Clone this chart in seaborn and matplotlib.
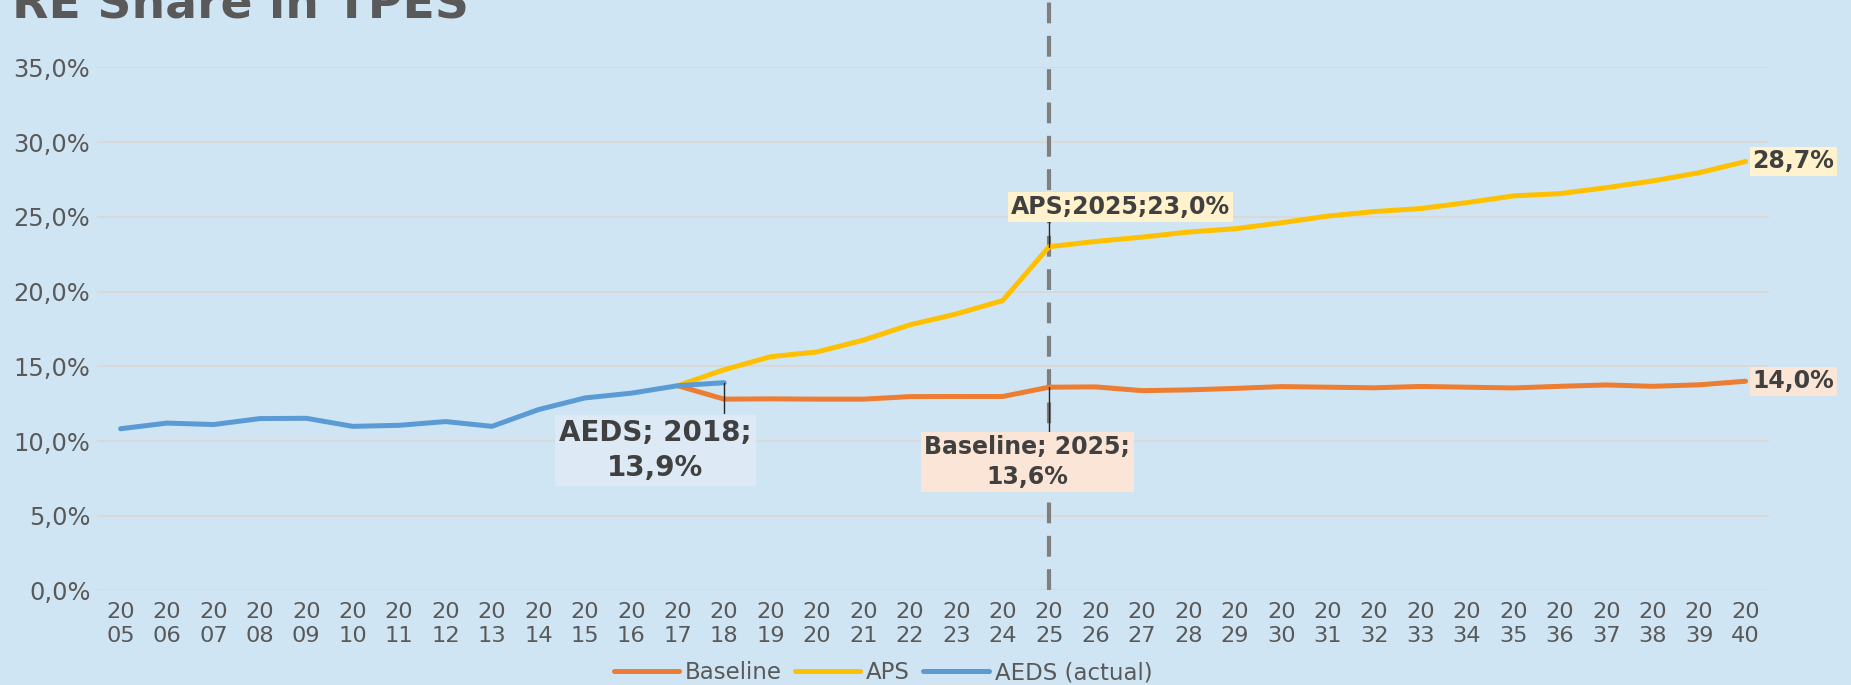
import numpy as np
import pandas as pd
import matplotlib
matplotlib.use("Agg")
import matplotlib.pyplot as plt
import seaborn as sns
from matplotlib.lines import Line2D

# ---------------- data ----------------
years_hist = list(range(2005, 2019))
aeds_vals = [10.82, 11.2, 11.1, 11.5, 11.52, 10.98, 11.05, 11.3, 10.98, 12.1, 12.88, 13.2, 13.7, 13.9]

years_proj = list(range(2017, 2041))
baseline_vals = [13.7, 12.8, 12.82, 12.8, 12.8, 12.97, 12.98, 12.98, 13.6, 13.62, 13.37, 13.42,
                 13.52, 13.64, 13.6, 13.56, 13.65, 13.6, 13.55, 13.66, 13.75, 13.66, 13.76, 14.0]
aps_vals = [13.7, 14.77, 15.64, 15.96, 16.75, 17.77, 18.5, 19.4, 23.0, 23.35, 23.64, 23.98,
            24.2, 24.6, 25.05, 25.35, 25.55, 25.95, 26.4, 26.55, 26.95, 27.4, 27.95, 28.7]

series_names = ["Baseline", "APS", "AEDS (actual)"]
series_colors = ["#ED7D31", "#FFC000", "#5B9BD5"]
yticks = [0, 5, 10, 15, 20, 25, 30, 35]

df = pd.concat([
    pd.DataFrame({"year": years_proj, "value": baseline_vals, "series": "Baseline"}),
    pd.DataFrame({"year": years_proj, "value": aps_vals, "series": "APS"}),
    pd.DataFrame({"year": years_hist, "value": aeds_vals, "series": "AEDS (actual)"}),
], ignore_index=True)

BG = "#D0E5F3"
TXT = "#595959"
DARK = "#404040"

sns.set_theme(style="white")
plt.rcParams["font.family"] = ["DejaVu Sans"]

fig = plt.figure(figsize=(18.51, 6.85), dpi=100, facecolor=BG)
ax = fig.add_axes([0.0526, 0.138, 0.9030, 0.7637])
ax.set_facecolor(BG)

for s in ax.spines.values():
    s.set_visible(False)

ax.set_ylim(0, 35)
ax.set_xlim(2004.5, 2040.5)
ax.set_yticks(yticks)
ax.set_yticklabels([f"{v:.1f}%".replace(".", ",") for v in yticks], color=TXT, fontsize=17.4)
years_all = list(range(2005, 2041))
ax.set_xticks(years_all)
ax.set_xticklabels([f"{str(y)[:2]}\n{str(y)[2:]}" for y in years_all], color=TXT,
                   fontsize=16.2, linespacing=1.25)
ax.tick_params(axis="both", length=0)
ax.tick_params(axis="y", pad=5)
ax.tick_params(axis="x", pad=8)
ax.grid(axis="y", color="#D9D9D9", lw=1.5)
ax.grid(axis="x", visible=False)
ax.set_axisbelow(True)

sns.lineplot(data=df, x="year", y="value", hue="series", hue_order=series_names,
             palette=dict(zip(series_names, series_colors)), lw=3.6, ax=ax,
             legend=False, sort=True, estimator=None)
for ln in ax.lines:
    ln.set_solid_capstyle("round")
    ln.set_solid_joinstyle("round")
ax.set_xlabel("")
ax.set_ylabel("")

# vertical dashed marker at 2025
ax.plot([2025, 2025], [0, 39.6], color="#7F7F7F", lw=3, ls=(0, (5, 3)),
        clip_on=False, zorder=1)

# leader lines
ax.plot([2018, 2018], [aeds_vals[-1], 11.9], color="#262626", lw=1, zorder=4)
ax.plot([2025, 2025], [baseline_vals[8], 10.55], color="#262626", lw=1, zorder=4)
ax.plot([2025, 2025], [aps_vals[8], 24.7], color="#262626", lw=1, zorder=4)

# data labels
ax.text(2016.52, 9.35, "AEDS; 2018;\n13,9%", ha="center", va="center", fontsize=20,
        fontweight="bold", color=DARK, linespacing=1.3, zorder=5,
        bbox=dict(boxstyle="square,pad=0.15", fc="#DDEAF6", ec="none"))
ax.text(2024.53, 8.6, "Baseline; 2025;\n13,6%", ha="center", va="center", fontsize=17,
        fontweight="bold", color=DARK, linespacing=1.3, zorder=5,
        bbox=dict(boxstyle="square,pad=0.15", fc="#FBE5D6", ec="none"))
ax.text(2026.54, 25.65, "APS;2025;23,0%", ha="center", va="center", fontsize=17,
        fontweight="bold", color=DARK, zorder=5,
        bbox=dict(boxstyle="square,pad=0.12", fc="#FFF2CC", ec="none"))
ax.annotate("28,7%", xy=(2040, aps_vals[-1]), xytext=(5, 0), textcoords="offset points",
            ha="left", va="center", fontsize=17, fontweight="bold", color=DARK,
            annotation_clip=False,
            bbox=dict(boxstyle="square,pad=0.1", fc="#FFF2CC", ec="none"))
ax.annotate("14,0%", xy=(2040, baseline_vals[-1]), xytext=(5, 0), textcoords="offset points",
            ha="left", va="center", fontsize=17, fontweight="bold", color=DARK,
            annotation_clip=False,
            bbox=dict(boxstyle="square,pad=0.1", fc="#FBE5D6", ec="none"))

# title (partly cut off at top, as in the reference)
fig.text(0.0065, 1 - 17 / 685, "RE Share in TPES", ha="left", va="baseline",
         fontsize=34, fontweight="bold", color=TXT)

handles = [Line2D([0], [0], color=c, lw=3.6, solid_capstyle="round") for c in series_colors]
leg = fig.legend(handles, series_names, loc="center", bbox_to_anchor=(0.477, 0.018), ncol=3,
                 frameon=False, fontsize=16.5, handlelength=2.85, handletextpad=0.26,
                 columnspacing=0.57, borderaxespad=0)
for t in leg.get_texts():
    t.set_color(TXT)

fig.savefig("out.png", dpi=100, facecolor=BG)
